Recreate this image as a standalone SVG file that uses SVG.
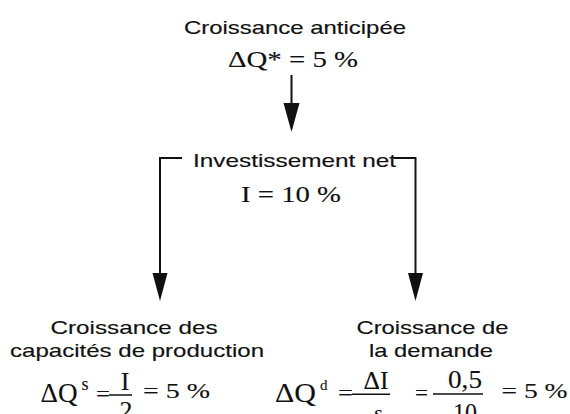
<svg xmlns="http://www.w3.org/2000/svg" width="570" height="414" viewBox="0 0 570 414">
<style>
.sans{font-family:"Liberation Sans",Arial,sans-serif;font-size:19px;fill:#111;stroke:#111;stroke-width:0.15}
.serif{font-family:"Liberation Serif","Times New Roman",serif;fill:#111;stroke:#111;stroke-width:0.12}
.ln{stroke:#111;stroke-width:2;fill:none}
.bar{stroke:#111;stroke-width:1.5}
.head{fill:#111}
</style>
<rect width="570" height="414" fill="#fff"/>
<g id="croissance-anticipee">
<text class="sans" x="184" y="34" textLength="222" lengthAdjust="spacingAndGlyphs">Croissance anticipée</text>
<text class="serif" x="228" y="67" font-size="23" textLength="130" lengthAdjust="spacingAndGlyphs">ΔQ* = 5 %</text>
</g>
<g id="investissement-net">
<text class="sans" x="193" y="167" textLength="203" lengthAdjust="spacingAndGlyphs">Investissement net</text>
<text class="serif" x="241" y="201.5" font-size="23.5" textLength="100" lengthAdjust="spacingAndGlyphs">I = 10 %</text>
</g>
<g id="connectors">
<line class="ln" x1="291.5" y1="75" x2="291.5" y2="105"/>
<polygon class="head" points="283.5,103 299.5,103 291.5,132"/>
<path class="ln" d="M182,158 H160 V275"/>
<polygon class="head" points="152.5,273 167.5,273 160,301"/>
<path class="ln" d="M394,158 H415.5 V275"/>
<polygon class="head" points="408,273 423,273 415.5,301"/>
</g>
<g id="capacites">
<text class="sans" x="50.5" y="333.5" textLength="167" lengthAdjust="spacingAndGlyphs">Croissance des</text>
<text class="sans" x="10" y="357" textLength="254" lengthAdjust="spacingAndGlyphs">capacités de production</text>
<text class="serif" x="40.5" y="401.5" font-size="28" textLength="37" lengthAdjust="spacingAndGlyphs">ΔQ</text>
<text class="serif" x="81.5" y="390" font-size="18">s</text>
<text class="serif" x="96" y="401" font-size="22" textLength="14" lengthAdjust="spacingAndGlyphs">=</text>
<line class="bar" x1="109" y1="395" x2="132" y2="395"/>
<text class="serif" x="125" y="390" font-size="26" text-anchor="middle">I</text>
<text class="serif" x="126" y="419" font-size="26" text-anchor="middle">2</text>
<text class="serif" x="143" y="398.3" font-size="22" textLength="67" lengthAdjust="spacingAndGlyphs">= 5 %</text>
</g>
<g id="demande">
<text class="sans" x="356.5" y="333.5" textLength="152" lengthAdjust="spacingAndGlyphs">Croissance de</text>
<text class="sans" x="369" y="357" textLength="124" lengthAdjust="spacingAndGlyphs">la demande</text>
<text class="serif" x="275" y="401.5" font-size="28" textLength="41" lengthAdjust="spacingAndGlyphs">ΔQ</text>
<text class="serif" x="320" y="390" font-size="15">d</text>
<text class="serif" x="338" y="399.5" font-size="22" textLength="15" lengthAdjust="spacingAndGlyphs">=</text>
<line class="bar" x1="352" y1="394.3" x2="390" y2="394.3"/>
<text class="serif" x="376" y="389.3" font-size="26" text-anchor="middle" textLength="25" lengthAdjust="spacingAndGlyphs">ΔI</text>
<text class="serif" x="378.5" y="420" font-size="22" text-anchor="middle">s</text>
<text class="serif" x="415" y="399.5" font-size="22" textLength="13" lengthAdjust="spacingAndGlyphs">=</text>
<line class="bar" x1="433" y1="394" x2="483" y2="394"/>
<text class="serif" x="465" y="388.3" font-size="26" text-anchor="middle" textLength="34" lengthAdjust="spacingAndGlyphs">0,5</text>
<text class="serif" x="465" y="421" font-size="26" text-anchor="middle" textLength="24" lengthAdjust="spacingAndGlyphs">10</text>
<text class="serif" x="501.5" y="398.3" font-size="22" textLength="66" lengthAdjust="spacingAndGlyphs">= 5 %</text>
</g>
</svg>
